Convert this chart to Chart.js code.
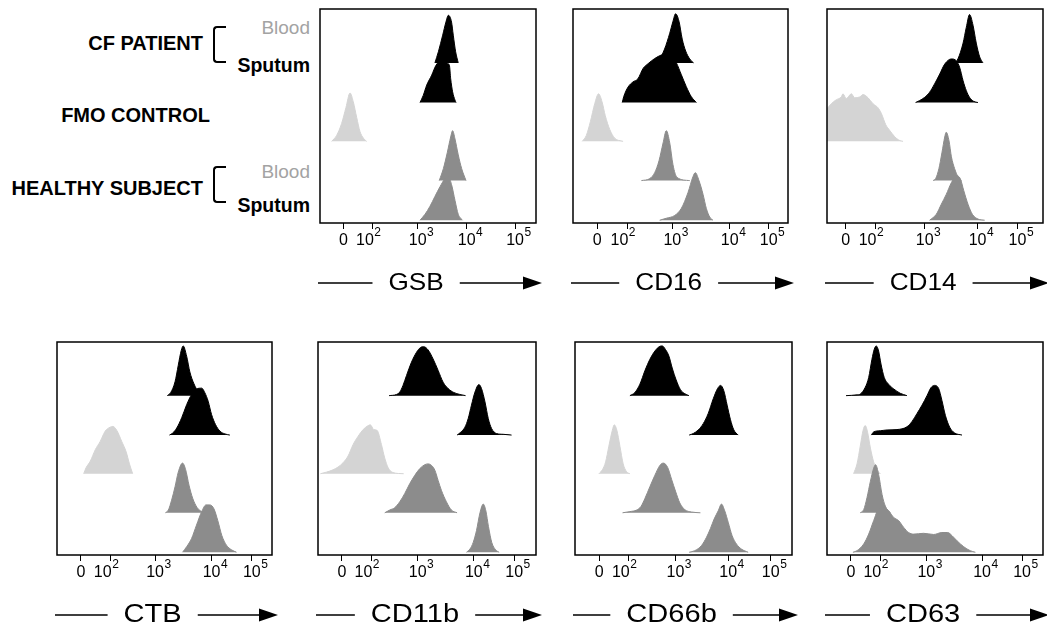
<!DOCTYPE html>
<html>
<head>
<meta charset="utf-8">
<script src="https://cdn.jsdelivr.net/npm/chart.js@4.4.0/dist/chart.umd.min.js"></script>
<style>
  body { margin: 0; width: 1047px; height: 625px; background: #fff; position: relative; overflow: hidden;
         font-family: Arial, "Liberation Sans", sans-serif; }
  canvas { position: absolute; }
  .lab { position: absolute; white-space: nowrap; line-height: 20px; text-align: right; }
  .bold { font-weight: bold; font-size: 20px; color: #000; }
  .sput { font-weight: bold; font-size: 19.5px; color: #000; }
  .blood { font-size: 19px; color: #a3a3a3; }
  .brk { position: absolute; width: 11px; height: 33px; border: 2.5px solid #000; border-right: none;
         border-radius: 4px 0 0 4px; }
</style>
</head>
<body>
<div class="lab bold" style="right:844px; top:33px">CF PATIENT</div>
<div class="lab bold" style="right:837px; top:105px">FMO CONTROL</div>
<div class="lab bold" style="right:844px; top:178px">HEALTHY SUBJECT</div>
<div class="brk" style="left:213px; top:26px"></div>
<div class="brk" style="left:213px; top:166px"></div>
<div class="lab blood" style="right:737px; top:18px">Blood</div>
<div class="lab sput" style="right:737px; top:55px">Sputum</div>
<div class="lab blood" style="right:737px; top:162px">Blood</div>
<div class="lab sput" style="right:737px; top:195px">Sputum</div>

<script>
// x in display channels (0..1000 across the plot), heights in row units
const TICK_LABELS = ["0", "10^2", "10^3", "10^4", "10^5"];
const MARKERS = ["GSB", "CD16", "CD14", "CTB", "CD11b", "CD66b", "CD63"];
const ROWS = ["CF blood", "CF sputum", "FMO control", "Healthy blood", "Healthy sputum"];
const ROW_BASE = [4.04, 3.04, 2.06, 1.07, 0.07];

// tick channel for 0, 10^2 ... 10^5, per panel
const gsbTicks = [108, 245, 452, 679, 903];
const cd16Ticks = [113, 253, 462, 729, 910];
const cd14Ticks = [87, 225, 452, 697, 882];
const ctbTicks = [111, 250, 456, 719, 906];
const cd11bTicks = [110, 245, 457, 715, 900];
const cd66bTicks = [112, 248, 463, 706, 902];
const cd63Ticks = [111, 247, 460, 718, 903];

// ===== GSB =====
const gsbCfBlood = [[532,0],[548,0.28],[568,0.7],[583,1.03],[594,1.2],[609,1.03],[617,0.7],[628,0.28],[640,0]];
const gsbCfSputum = [[463,0],[478,0.18],[494,0.44],[517,0.69],[537,0.94],[568,1.08],[586,1.0],[599,0.94],[605,0.6],[614,0.27],[625,0.06],[630,0]];
const gsbFmo = [[54,0],[77,0.15],[100,0.45],[120,0.85],[139,1.22],[154,1.0],[170,0.6],[185,0.25],[201,0.08],[216,0]];
const gsbHealthyBlood = [[552,0],[571,0.3],[589,0.7],[605,1.1],[614,1.26],[625,1.05],[640,0.65],[656,0.3],[676,0]];
const gsbHealthySputum = [[463,0],[486,0.15],[509,0.35],[532,0.6],[556,0.85],[579,1.05],[594,1.1],[609,0.9],[625,0.5],[640,0.15],[660,0]];

// ===== CD16 =====
const cd16CfBlood = [[395,0],[426,0.35],[450,0.75],[465,1.05],[477,1.24],[493,1.05],[508,0.6],[524,0.3],[543,0.1],[561,0]];
const cd16CfSputum = [[229,0],[236,0.15],[256,0.39],[279,0.52],[302,0.6],[326,0.86],[349,0.98],[380,1.11],[411,1.2],[450,1.25],[481,1.0],[504,0.7],[527,0.4],[550,0.15],[574,0]];
const cd16Fmo = [[43,0],[62,0.15],[81,0.5],[101,0.95],[119,1.2],[135,1.0],[150,0.65],[171,0.3],[194,0.08],[233,0]];
const cd16HealthyBlood = [[318,0],[357,0.05],[380,0.2],[400,0.5],[419,0.95],[434,1.26],[450,0.95],[465,0.4],[484,0.08],[543,0]];
const cd16HealthySputum = [[403,0],[434,0.05],[473,0.12],[504,0.3],[535,0.7],[558,1.1],[569,1.2],[586,1.0],[605,0.65],[620,0.3],[636,0.08],[651,0]];

// ===== CD14 =====
const cd14CfBlood = [[591,0],[606,0.1],[630,0.5],[645,0.9],[660,1.22],[676,0.95],[691,0.5],[707,0.15],[722,0]];
const cd14CfSputum = [[410,0],[429,0.05],[452,0.13],[475,0.26],[498,0.47],[522,0.72],[545,0.97],[576,1.1],[599,1.05],[614,0.89],[630,0.55],[645,0.3],[660,0.13],[679,0.03],[699,0]];
const cd14Fmo = [[0,0.82],[20,0.95],[43,1.05],[66,1.12],[74,1.2],[89,1.08],[113,1.2],[128,1.1],[151,1.12],[167,1.18],[190,1.1],[213,0.95],[236,0.85],[252,0.7],[272,0.42],[290,0.28],[313,0.12],[333,0.03],[352,0]];
const cd14HealthyBlood = [[491,0],[503,0.05],[518,0.3],[532,0.7],[545,1.1],[552,1.22],[565,1.0],[576,0.6],[591,0.3],[606,0.1],[622,0]];
const cd14HealthySputum = [[475,0],[506,0.15],[529,0.4],[552,0.65],[576,0.95],[599,1.12],[617,1.05],[633,0.75],[653,0.4],[673,0.15],[699,0.03],[730,0]];

// ===== CTB =====
const ctbCfBlood = [[513,0],[529,0.08],[549,0.35],[564,0.77],[578,1.15],[587,1.26],[603,1.0],[618,0.6],[637,0.3],[657,0.1],[677,0]];
const ctbCfSputum = [[523,0],[538,0.05],[557,0.18],[580,0.44],[603,0.77],[626,1.03],[649,1.17],[673,1.19],[688,1.07],[703,0.86],[719,0.52],[737,0.27],[758,0.1],[781,0.03],[804,0]];
const ctbFmo = [[124,0],[135,0.15],[155,0.32],[178,0.61],[201,0.82],[224,1.08],[247,1.18],[260,1.2],[278,1.1],[301,0.82],[322,0.55],[337,0.25],[352,0]];
const ctbHealthyBlood = [[504,0],[518,0.07],[533,0.32],[549,0.66],[564,1.03],[584,1.26],[598,1.1],[614,0.7],[631,0.37],[652,0.13],[680,0]];
const ctbHealthySputum = [[584,0],[603,0.14],[626,0.35],[649,0.69],[673,1.03],[693,1.2],[711,1.2],[730,1.1],[748,0.8],[767,0.42],[788,0.18],[812,0.06],[835,0]];

// ===== CD11b =====
const cd11bCfBlood = [[326,0],[360,0.03],[375,0.09],[390,0.26],[406,0.51],[429,0.85],[452,1.1],[470,1.22],[485,1.24],[505,1.16],[528,0.93],[551,0.64],[574,0.34],[597,0.18],[623,0.08],[651,0.03],[677,0]];
const cd11bCfSputum = [[638,0],[654,0.07],[674,0.2],[689,0.42],[704,0.76],[720,1.09],[738,1.28],[750,1.18],[766,0.84],[781,0.42],[796,0.17],[819,0.04],[850,0.02],[888,0]];
const cd11bFmo = [[11,0],[38,0.04],[69,0.1],[92,0.17],[115,0.28],[138,0.45],[161,0.74],[184,0.95],[207,1.12],[230,1.22],[240,1.24],[256,1.12],[271,1.1],[291,0.74],[306,0.4],[322,0.15],[344,0.03],[393,0]];
const cd11bHealthyBlood = [[306,0],[329,0.07],[352,0.13],[375,0.28],[398,0.49],[421,0.74],[444,0.95],[467,1.12],[490,1.22],[505,1.24],[521,1.2],[536,1.08],[551,0.82],[566,0.57],[589,0.28],[612,0.07],[638,0]];
const cd11bHealthySputum = [[681,0],[697,0.08],[712,0.25],[727,0.55],[743,1.0],[758,1.22],[770,1.05],[782,0.65],[797,0.25],[815,0.06],[831,0]];

// ===== CD66b =====
const cd66bCfBlood = [[253,0],[276,0.08],[299,0.29],[322,0.63],[345,0.92],[368,1.13],[391,1.25],[402,1.26],[417,1.17],[433,1.0],[448,0.7],[466,0.4],[486,0.15],[506,0.05],[525,0]];
const cd66bCfSputum = [[526,0],[545,0.04],[568,0.13],[591,0.29],[614,0.55],[637,0.92],[657,1.18],[671,1.26],[686,1.12],[701,0.76],[716,0.4],[732,0.13],[752,0]];
const cd66bFmo = [[110,0],[126,0.1],[141,0.3],[156,0.7],[172,1.1],[181,1.24],[193,1.1],[207,0.7],[222,0.25],[238,0.05],[253,0]];
const cd66bHealthyBlood = [[219,0],[253,0.03],[284,0.07],[304,0.16],[322,0.36],[345,0.66],[368,0.95],[391,1.2],[407,1.26],[427,1.15],[445,0.85],[463,0.55],[483,0.25],[506,0.08],[537,0.02],[578,0]];
const cd66bHealthySputum = [[526,0],[552,0.04],[583,0.17],[606,0.38],[624,0.6],[641,0.84],[660,1.05],[675,1.22],[690,1.05],[706,0.76],[724,0.42],[744,0.21],[767,0.08],[798,0]];

// ===== CD63 =====
const cd63CfBlood = [[88,0],[139,0.02],[154,0.04],[177,0.21],[193,0.46],[208,0.92],[219,1.18],[228,1.26],[239,1.13],[250,0.8],[265,0.46],[285,0.29],[309,0.17],[339,0.06],[370,0]];
const cd63CfSputum = [[205,0],[216,0.08],[247,0.11],[278,0.13],[324,0.14],[370,0.21],[393,0.34],[417,0.55],[440,0.76],[463,1.0],[481,1.2],[498,1.26],[517,1.18],[532,0.88],[548,0.5],[568,0.2],[589,0.06],[625,0]];
const cd63Fmo = [[123,0],[139,0.25],[154,0.7],[167,1.1],[177,1.22],[188,1.05],[201,0.65],[216,0.3],[231,0.1],[247,0]];
const cd63HealthyBlood = [[154,0],[170,0.08],[185,0.38],[201,0.8],[216,1.13],[225,1.22],[239,0.97],[255,0.46],[270,0.17],[293,0]];
const cd63HealthySputum = [[120,0],[139,0.04],[170,0.21],[193,0.46],[216,0.8],[239,1.1],[262,1.13],[285,1.05],[309,0.88],[332,0.8],[355,0.63],[378,0.5],[401,0.46],[447,0.48],[494,0.45],[532,0.5],[559,0.5],[579,0.42],[602,0.29],[633,0.14],[663,0.04],[687,0]];

// ---------- building the panels ----------
const SERIES = {
  GSB: [gsbCfBlood, gsbCfSputum, gsbFmo, gsbHealthyBlood, gsbHealthySputum],
  CD16: [cd16CfBlood, cd16CfSputum, cd16Fmo, cd16HealthyBlood, cd16HealthySputum],
  CD14: [cd14CfBlood, cd14CfSputum, cd14Fmo, cd14HealthyBlood, cd14HealthySputum],
  CTB: [ctbCfBlood, ctbCfSputum, ctbFmo, ctbHealthyBlood, ctbHealthySputum],
  CD11b: [cd11bCfBlood, cd11bCfSputum, cd11bFmo, cd11bHealthyBlood, cd11bHealthySputum],
  CD66b: [cd66bCfBlood, cd66bCfSputum, cd66bFmo, cd66bHealthyBlood, cd66bHealthySputum],
  CD63: [cd63CfBlood, cd63CfSputum, cd63Fmo, cd63HealthyBlood, cd63HealthySputum],
};
const TICKS = { GSB: gsbTicks, CD16: cd16Ticks, CD14: cd14Ticks, CTB: ctbTicks, CD11b: cd11bTicks, CD66b: cd66bTicks, CD63: cd63Ticks };

// plot box in page pixels: left, top, width, height
const BOXES = {
  GSB: [320, 9, 216, 214],
  CD16: [573, 9, 215, 214],
  CD14: [827, 9, 216, 214],
  CTB: [57, 342, 215, 213],
  CD11b: [318, 342, 218, 213],
  CD66b: [575, 342, 217, 213],
  CD63: [827, 342, 216, 213],
};
const ROW_COLORS = ["#000000", "#000000", "#d4d4d4", "#8c8c8c", "#8c8c8c"];
const FONT = 'Arial, "Liberation Sans", sans-serif';
const PAD_X = 12, PAD_TOP = 4, PAD_BOTTOM = 72, TICK_LEN = 6;
const LABEL_SHIFT = [0, -8, 0, 0, 0]; // the 10^2 label sits left of its tick, clear of "0"

// box round the plot, tick labels with real superscripts, axis name with line and arrow
const framePlugin = {
  id: "frame",
  afterDraw(chart, args, opts) {
    const { ctx, chartArea: a } = chart;
    const sc = chart.scales.x;
    ctx.save();
    ctx.strokeStyle = "#000";
    ctx.fillStyle = "#000";
    ctx.lineWidth = 1.5;
    ctx.strokeRect(a.left, a.top, a.right - a.left, a.bottom - a.top);

    // tick labels
    ctx.textBaseline = "middle";
    ctx.textAlign = "left";
    const ly = a.bottom + 18;
    opts.ticks.forEach((v, i) => {
      const px = sc.getPixelForValue(v) + LABEL_SHIFT[i];
      const [base, exp] = TICK_LABELS[i].split("^");
      ctx.font = "16px " + FONT;
      const wb = ctx.measureText(base).width;
      ctx.fillText(base, px - wb / 2, ly);
      if (exp) {
        ctx.font = "12px " + FONT;
        ctx.fillText(exp, px + wb / 2 + 0.5, ly - 8);
      }
    });

    // axis name
    const sx = opts.stretch;
    ctx.font = opts.titleSize + "px " + FONT;
    ctx.textAlign = "center";
    const cx = a.left + 0.445 * (a.right - a.left);
    const cy = a.bottom + 60;
    const tw = ctx.measureText(opts.title).width * sx;
    ctx.save();
    ctx.translate(cx, cy);
    ctx.scale(sx, 1);
    ctx.fillText(opts.title, 0, 0);
    ctx.restore();

    ctx.lineWidth = 1.5;
    ctx.beginPath();
    ctx.moveTo(a.left - 2, cy);
    ctx.lineTo(cx - tw / 2 - 16, cy);
    const x0 = cx + tw / 2 + 16;
    const x1 = Math.min(a.right + 6, chart.width - 1);
    ctx.moveTo(x0, cy);
    ctx.lineTo(x1 - 15, cy);
    ctx.stroke();
    ctx.beginPath();
    ctx.moveTo(x1, cy);
    ctx.lineTo(x1 - 19, cy - 6.5);
    ctx.lineTo(x1 - 19, cy + 6.5);
    ctx.closePath();
    ctx.fill();
    ctx.restore();
  },
};

MARKERS.forEach((name, k) => {
  const [left, top, w, h] = BOXES[name];
  const canvas = document.createElement("canvas");
  canvas.width = w + PAD_X * 2;
  canvas.height = PAD_TOP + h + TICK_LEN + PAD_BOTTOM;
  canvas.style.left = left - PAD_X + "px";
  canvas.style.top = top - PAD_TOP + "px";
  document.body.appendChild(canvas);

  const tickPos = TICKS[name];
  const bottomRow = k >= 3;
  const datasets = SERIES[name].map((pts, r) => ({
    label: ROWS[r],
    data: pts.map(([x, hgt]) => ({ x, y: ROW_BASE[r] + hgt })),
    fill: { value: ROW_BASE[r] },
    backgroundColor: ROW_COLORS[r],
    borderColor: ROW_COLORS[r],
    borderWidth: 1,
    pointRadius: 0,
    cubicInterpolationMode: "monotone",
    order: 4 - r,
  }));

  new Chart(canvas, {
    type: "line",
    data: { datasets },
    plugins: [framePlugin],
    options: {
      responsive: false,
      animation: false,
      devicePixelRatio: 1,
      events: [],
      layout: { padding: { left: PAD_X, right: PAD_X, top: PAD_TOP, bottom: PAD_BOTTOM } },
      plugins: {
        legend: { display: false },
        tooltip: { enabled: false },
        frame: { title: name, ticks: tickPos, titleSize: bottomRow ? 25.5 : 24, stretch: bottomRow ? 1.14 : 1.09 },
      },
      scales: {
        x: {
          type: "linear",
          min: 0,
          max: 1000,
          afterBuildTicks: (axis) => {
            axis.ticks = tickPos.map((v) => ({ value: v }));
          },
          ticks: { display: false },
          grid: { drawOnChartArea: false, drawTicks: true, tickLength: TICK_LEN, color: "#000", lineWidth: 1 },
          border: { display: false },
        },
        y: { display: false, min: 0, max: 5.4 },
      },
    },
  });
});
</script>
</body>
</html>
